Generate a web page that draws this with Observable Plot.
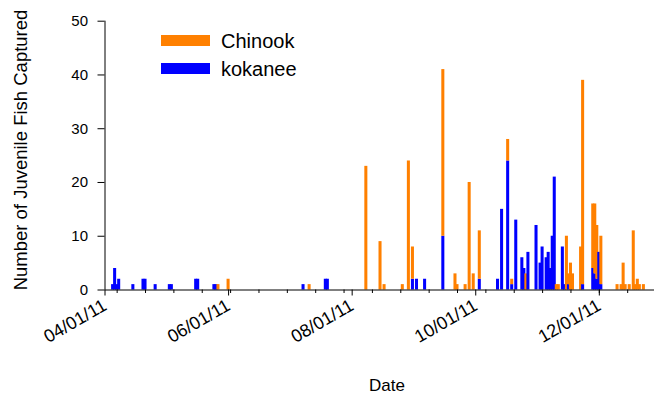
<!DOCTYPE html>
<html><head><meta charset="utf-8">
<script src="https://cdn.jsdelivr.net/npm/d3@7"></script>
<script src="https://cdn.jsdelivr.net/npm/@observablehq/plot@0.6"></script>
<style>
body{margin:0;background:#fff;}
svg{font-family:"Liberation Sans",Arial,sans-serif;}
</style>
</head><body><div id="chart"></div>
<script>
// ---- data ----
const dates = ["04/05/11","04/06/11","04/07/11","04/08/11","04/15/11","04/20/11","04/21/11","04/26/11",
"05/03/11","05/04/11","05/16/11","05/17/11","05/25/11","05/26/11","05/27/11","06/01/11",
"07/08/11","07/11/11","07/19/11","07/20/11",
"08/08/11","08/15/11","08/17/11","08/26/11","08/29/11","08/31/11",
"09/02/11","09/06/11","09/15/11","09/21/11","09/22/11","09/26/11","09/28/11","09/30/11",
"10/03/11","10/12/11","10/14/11","10/17/11","10/19/11","10/21/11","10/24/11","10/25/11","10/26/11","10/27/11","10/31/11",
"11/02/11","11/03/11","11/05/11","11/06/11","11/07/11","11/08/11","11/09/11","11/10/11","11/11/11","11/13/11","11/14/11",
"11/15/11","11/16/11","11/17/11","11/18/11","11/22/11","11/23/11","11/28/11","11/29/11","11/30/11",
"12/01/11","12/02/11","12/10/11","12/12/11","12/13/11","12/14/11","12/16/11","12/18/11","12/19/11","12/20/11","12/21/11","12/23/11"];
const kokanee = [1,4,1,2,1,2,2,1,
1,1,2,2,1,1,0,0,
1,0,2,2,
0,0,0,0,0,2,
2,2,10,0,0,0,0,0,
2,2,15,24,1,13,6,4,0,7,12,
5,8,6,7,4,10,21,0,0,8,1,
0,1,0,0,0,1,4,3,2,
7,1,0,0,0,0,0,0,0,0,0,0];
const chinook = [0,0,0,0,0,0,0,0,
0,0,0,0,0,0,1,2,
0,1,0,0,
23,9,1,1,24,6,
0,0,31,3,1,1,20,3,
9,0,0,4,1,0,0,0,3,0,0,
0,0,0,0,0,0,0,1,1,0,0,
10,2,5,3,8,38,12,13,10,
0,9,1,1,5,1,1,11,1,2,1,1];
const seriesNames = ["Chinook","kokanee"];
const seriesColors = ["#FF8000","#0000FF"];
const majorTicks = ["04/01/11","06/01/11","08/01/11","10/01/11","12/01/11"];
const minorTicks = ["04/07/11","04/21/11","05/05/11","05/19/11","06/02/11","06/16/11","06/30/11","07/14/11","07/28/11",
"08/11/11","08/25/11","09/08/11","09/22/11","10/06/11","10/20/11","11/03/11","11/17/11","12/01/11","12/15/11","12/29/11"];
const xDomain = ["04/01/11","12/31/11"];
const yTicks = [0,10,20,30,40,50];
const yTitle = "Number of Juvenile Fish Captured";
const xTitle = "Date";

// ---- build ----
const parse = d3.utcParse("%m/%d/%y");
const fmt = d3.utcFormat("%m/%d/%y");
const half = 0.75*24*3600*1000;
const rows = [];
dates.forEach((s,i) => {
  const d = parse(s);
  if (kokanee[i] > 0) rows.push({x1: new Date(+d - half), x2: new Date(+d + half), y1: 0, y2: kokanee[i], s: seriesNames[1]});
  if (chinook[i] > 0) rows.push({x1: new Date(+d - half), x2: new Date(+d + half), y1: kokanee[i], y2: kokanee[i] + chinook[i], s: seriesNames[0]});
});
const x0 = parse(xDomain[0]), x1 = parse(xDomain[1]);

const W = 654, H = 398;
const chart = Plot.plot({
  width: W, height: H,
  marginLeft: 104.5, marginRight: 0, marginTop: 20.7, marginBottom: 108.5,
  style: {fontFamily: "Liberation Sans, Arial, sans-serif", background: "white", color: "#000"},
  x: {type: "utc", domain: [x0, x1], range: [104.5, 659.6]},
  y: {domain: [0, 50]},
  color: {domain: seriesNames, range: seriesColors},
  marks: [
    Plot.rect(rows, {x1: "x1", x2: "x2", y1: "y1", y2: "y2", fill: "s"}),
    Plot.axisX(minorTicks.map(parse), {tickSize: 3.5, tickFormat: () => "", stroke: "#000", label: null}),
    Plot.axisX(majorTicks.map(parse), {tickSize: 6, tickRotate: -30, tickPadding: 8, fontSize: 18,
      tickFormat: fmt, stroke: "#000", label: null}),
    Plot.axisY(yTicks, {tickSize: 7, tickPadding: 10, fontSize: 15, stroke: "#000", label: null}),
    Plot.ruleY([0], {x1: x0, x2: x1, stroke: "#000", strokeWidth: 1}),
    Plot.ruleX([x0], {y1: 0, y2: 50, stroke: "#000", strokeWidth: 1})
  ]
});
document.getElementById("chart").appendChild(chart);

const svg = d3.select(chart);
svg.append("text").attr("transform", "translate(27,150) rotate(-90)")
  .attr("text-anchor", "middle").attr("font-size", 18.5).attr("fill", "#000").text(yTitle);
svg.append("text").attr("x", 387).attr("y", 391)
  .attr("text-anchor", "middle").attr("font-size", 17).attr("fill", "#000").text(xTitle);
const lg = svg.append("g");
seriesNames.forEach((n, i) => {
  lg.append("rect").attr("x", 161).attr("y", 35 + i*28).attr("width", 49).attr("height", 11).attr("fill", seriesColors[i]);
  lg.append("text").attr("x", 221).attr("y", 48 + i*27.5).attr("text-anchor", "start")
    .attr("font-size", 20).attr("fill", "#000").text(n);
});
</script>
</body></html>
